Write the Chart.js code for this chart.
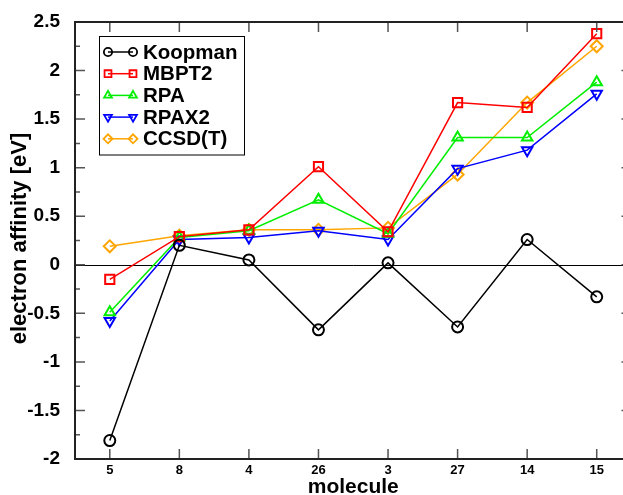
<!DOCTYPE html>
<html>
<head>
<meta charset="utf-8">
<script src="https://cdn.jsdelivr.net/npm/chart.js@4"></script>
<style>
  html, body { margin: 0; padding: 0; background: #fff; overflow: hidden; }
  #wrap { width: 640px; height: 495px; }
</style>
</head>
<body>
<div id="wrap"><canvas id="c" width="640" height="495"></canvas></div>
<script>
const categories = ['5', '8', '4', '26', '3', '27', '14', '15'];
const koopman = [-1.81, 0.20, 0.05, -0.67, 0.02, -0.64, 0.26, -0.33];
const mbpt2 = [-0.15, 0.29, 0.36, 1.01, 0.34, 1.67, 1.62, 2.38];
const rpa = [-0.49, 0.28, 0.35, 0.67, 0.32, 1.31, 1.31, 1.88];
const rpax2 = [-0.58, 0.26, 0.28, 0.35, 0.26, 0.99, 1.18, 1.76];
const ccsdt = [0.19, 0.30, 0.36, 0.36, 0.38, 0.93, 1.67, 2.25];
const yMin = -2, yMax = 2.5, yStep = 0.5;

const FONT = '"Liberation Sans", Arial, Helvetica, sans-serif';

function series(label, data, color, style, radius, rotation) {
  return {
    label: label,
    data: data,
    borderColor: color,
    backgroundColor: color,
    borderWidth: 1.5,
    pointStyle: style,
    rotation: rotation || 0,
    pointRadius: radius,
    pointHoverRadius: radius,
    pointBorderWidth: 2,
    pointBackgroundColor: 'rgba(0,0,0,0)',
    pointBorderColor: color,
    tension: 0
  };
}

const datasets = [
  series('Koopman', koopman, '#000000', 'circle', 5.5),
  series('MBPT2', mbpt2, '#ff0000', 'rect', 6.5),
  series('RPA', rpa, '#00ee00', 'triangle', 6),
  series('RPAX2', rpax2, '#0000ff', 'triangle', 6, 180),
  series('CCSD(T)', ccsdt, '#ffa500', 'rectRot', 6)
];

// zero line under the data
const zeroLine = {
  id: 'zeroLine',
  beforeDatasetsDraw(chart) {
    const { ctx, chartArea, scales } = chart;
    const y = Math.round(scales.y.getPixelForValue(0)) + 0.5;
    ctx.save();
    ctx.strokeStyle = '#000';
    ctx.lineWidth = 1;
    ctx.beginPath();
    ctx.moveTo(chartArea.left, y);
    ctx.lineTo(chartArea.right, y);
    ctx.stroke();
    ctx.restore();
  }
};

// frame, inward ticks, legend box and axis titles
const decor = {
  id: 'decor',
  afterDraw(chart) {
    const { ctx, chartArea, scales } = chart;
    const { left, right, top, bottom } = chartArea;
    ctx.save();

    ctx.strokeStyle = '#555';
    ctx.lineWidth = 1.5;
    ctx.beginPath();
    categories.forEach((c, i) => {
      const x = scales.x.getPixelForValue(i);
      ctx.moveTo(x, bottom); ctx.lineTo(x, bottom - 10);
      ctx.moveTo(x, top); ctx.lineTo(x, top + 10);
    });
    for (let v = yMin; v <= yMax + 1e-9; v += yStep / 2) {
      const y = scales.y.getPixelForValue(v);
      const major = Math.abs(v / yStep - Math.round(v / yStep)) < 1e-6;
      const len = major ? 10 : 5;
      ctx.moveTo(left, y); ctx.lineTo(left + len, y);
      ctx.moveTo(right, y); ctx.lineTo(right - len, y);
    }
    ctx.stroke();

    ctx.strokeStyle = '#222';
    ctx.lineWidth = 2;
    ctx.strokeRect(left, top, right - left, bottom - top);

    // legend
    const lx = 99.5, ly = 36.5, lw = 145, lh = 118.5;
    ctx.fillStyle = '#fff';
    ctx.fillRect(lx, ly, lw, lh);
    ctx.strokeStyle = '#000';
    ctx.lineWidth = 1;
    ctx.strokeRect(lx, ly, lw, lh);
    ctx.font = 'bold 20.5px ' + FONT;
    ctx.textBaseline = 'middle';
    ctx.textAlign = 'left';
    datasets.forEach((ds, i) => {
      const y = 52 + i * 21.7;
      ctx.strokeStyle = ds.borderColor;
      ctx.lineWidth = 1.5;
      ctx.beginPath();
      ctx.moveTo(108, y); ctx.lineTo(133, y);
      ctx.stroke();
      ctx.fillStyle = 'rgba(0,0,0,0)';
      ctx.lineWidth = 1.8;
      const opts = { pointStyle: ds.pointStyle, rotation: ds.rotation, radius: ds.pointRadius * 0.75, borderWidth: 1.8 };
      Chart.helpers.drawPoint(ctx, opts, 108, y);
      Chart.helpers.drawPoint(ctx, opts, 133, y);
      ctx.fillStyle = '#000';
      ctx.fillText(ds.label, 143, y + 1);
    });

    // axis titles
    ctx.fillStyle = '#000';
    ctx.font = 'bold 21px ' + FONT;
    ctx.textAlign = 'center';
    ctx.textBaseline = 'middle';
    ctx.fillText('molecule', (left + right) / 2, 487);
    ctx.font = 'bold 22px ' + FONT;
    ctx.translate(20, (top + bottom) / 2 - 2);
    ctx.rotate(-Math.PI / 2);
    ctx.fillText('electron affinity [eV]', 0, 0);
    ctx.restore();
  }
};

new Chart(document.getElementById('c'), {
  type: 'line',
  data: { labels: categories, datasets: datasets },
  plugins: [zeroLine, decor],
  options: {
    responsive: false,
    animation: false,
    devicePixelRatio: 1,
    layout: { padding: { top: 22, right: 5, left: 0, bottom: 0 } },
    plugins: { legend: { display: false }, tooltip: { enabled: false } },
    scales: {
      x: {
        type: 'category',
        offset: true,
        grid: { display: false },
        border: { display: false },
        ticks: { color: '#000', padding: -4, font: { family: FONT, size: 13, weight: 'bold' } },
        afterFit(scale) { scale.height = 36; }
      },
      y: {
        min: yMin,
        max: yMax,
        grid: { display: false },
        border: { display: false },
        ticks: {
          stepSize: yStep,
          color: '#000',
          padding: 7,
          font: { family: FONT, size: 19, weight: 'bold' },
          callback: (v) => String(Number(v.toFixed(2)))
        },
        afterFit(scale) { scale.width = 75; }
      }
    }
  }
});
</script>
</body>
</html>
